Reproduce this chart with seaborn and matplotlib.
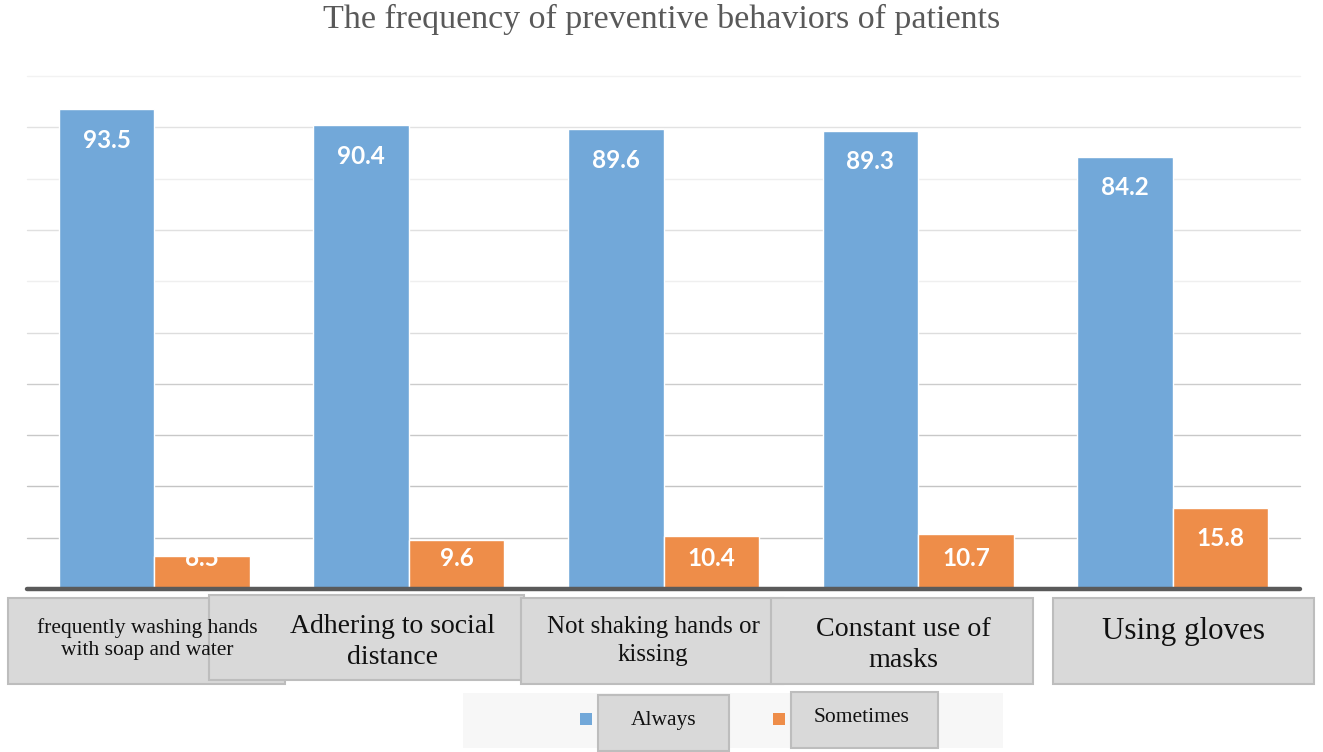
import matplotlib
matplotlib.use("Agg")
import matplotlib.pyplot as plt
import seaborn as sns
import pandas as pd
from matplotlib.patches import Rectangle

categories = ["frequently washing hands\nwith soap and water",
              "Adhering to social\ndistance",
              "Not shaking hands or\nkissing",
              "Constant use of\nmasks",
              "Using gloves"]
always = [93.5, 90.4, 89.6, 89.3, 84.2]
sometimes = [6.5, 9.6, 10.4, 10.7, 15.8]
series = ["Always", "Sometimes"]
title = "The frequency of preventive behaviors of patients"

BLUE = "#72A8D9"
ORANGE = "#EE8D49"

sns.set_theme(style="white")
plt.rcParams['font.family'] = ['Liberation Serif', 'DejaVu Sans']

W, H = 1323, 752
fig = plt.figure(figsize=(W / 100, H / 100), dpi=100)

def fx(x):
    return x / W

def fy(y):
    return 1 - y / H

ax = fig.add_axes([fx(27), fy(589), fx(1300) - fx(27), fy(76) - fy(589)])

df = pd.DataFrame({
    "behavior": categories * 2,
    "pct": always + sometimes,
    "freq": [series[0]] * len(categories) + [series[1]] * len(categories),
})

sns.barplot(data=df, x="behavior", y="pct", hue="freq", order=categories,
            hue_order=series, palette=[BLUE, ORANGE], width=0.75,
            edgecolor="white", linewidth=1.0, saturation=1, legend=False, ax=ax)

ax.set_xlim(-0.5, len(categories) - 0.5)
ax.set_ylim(0, 100)
ax.set_yticks(range(10, 101, 10))
ax.yaxis.grid(True, linewidth=1.0)
grid_cols = ["#c4c4c4", "#c4c4c4", "#c8c8c8", "#cccccc", "#dddddd", "#efefef",
             "#e0e0e0", "#eeeeee", "#e2e2e2", "#f2f2f2"]
for gl, c in zip(ax.get_ygridlines(), grid_cols):
    gl.set_color(c)
    gl.set_clip_on(False)
ax.set_axisbelow(True)
for s in ax.spines.values():
    s.set_visible(False)
ax.set_xticks([])
ax.set_yticklabels([])
ax.tick_params(left=False, bottom=False)
ax.set_xlabel("")
ax.set_ylabel("")
ax.axhline(0, color="#5a5a5a", linewidth=3.2, zorder=5, clip_on=False)

for cont in ax.containers:
    for bar in cont:
        v = bar.get_height()
        xc = bar.get_x() + bar.get_width() / 2
        ax.text(xc, max(v - 6, 6), f"{v:.1f}", ha="center", va="center",
                color="white", fontsize=17.5, fontweight="bold",
                family=["Lato", "DejaVu Sans"], zorder=6)

fig.text(0.5, fy(19), title, ha="center", va="center", color="#595959",
         fontsize=24.5, family=["Liberation Serif", "DejaVu Sans"])

# category label boxes (pixel coords: x0, y0, x1, y1)
boxes = [(8, 598, 285, 684), (209, 595, 524, 680), (521, 598, 783, 684),
         (771, 598, 1033, 684), (1053, 598, 1314, 684)]
label_sizes = [15.5, 20, 18, 20.2, 22.3]
label_centers = [(147, 639), (393, 642), (653, 641), (903, 645), (1184, 632)]
line_sp = [1.27, 1.31, 1.32, 1.3, 1.0]
for (x0, y0, x1, y1), lab, sz, (cx, cy), ls in zip(boxes, categories, label_sizes,
                                                   label_centers, line_sp):
    fig.patches.append(Rectangle((fx(x0), fy(y1)), fx(x1) - fx(x0), fy(y0) - fy(y1),
                                 transform=fig.transFigure, facecolor="#d9d9d9",
                                 edgecolor="#bdbdbd", linewidth=1.5))
    fig.text(fx(cx), fy(cy), lab, ha="center", va="center", fontsize=sz,
             color="#111111", linespacing=ls)

# legend
fig.patches.append(Rectangle((fx(463), fy(748)), fx(1003) - fx(463), fy(693) - fy(748),
                             transform=fig.transFigure, facecolor="#f7f7f7",
                             edgecolor="none"))
leg_items = [(series[0], BLUE, 580, (598, 695, 729, 751), (664, 720)),
             (series[1], ORANGE, 773, (791, 692, 938, 748), (862, 717))]
for name, col, sqx, (x0, y0, x1, y1), (tx, ty) in leg_items:
    fig.patches.append(Rectangle((fx(sqx), fy(725)), fx(12), fy(713) - fy(725),
                                 transform=fig.transFigure, facecolor=col,
                                 edgecolor="none"))
    fig.patches.append(Rectangle((fx(x0), fy(y1)), fx(x1) - fx(x0), fy(y0) - fy(y1),
                                 transform=fig.transFigure, facecolor="#d9d9d9",
                                 edgecolor="#bdbdbd", linewidth=1.5))
    fig.text(fx(tx), fy(ty), name, ha="center", va="center", fontsize=15.5,
             color="#111111")

fig.savefig("out.png", dpi=100)
